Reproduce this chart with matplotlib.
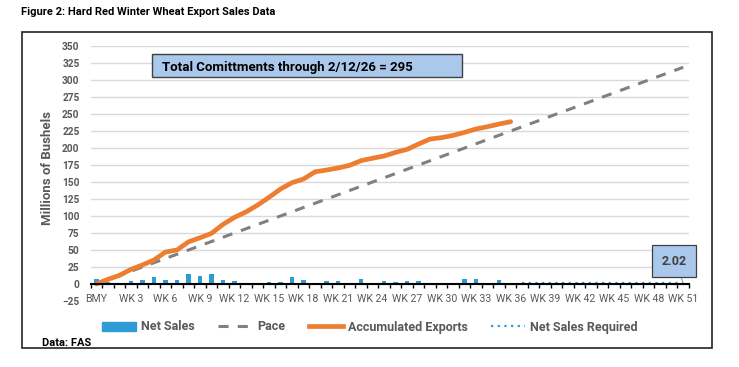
import numpy as np
import matplotlib.pyplot as plt
from matplotlib.patches import Rectangle
from matplotlib.lines import Line2D
from matplotlib.patches import Patch

plt.rcParams['font.family'] = ['Roboto', 'DejaVu Sans']

# categories: BMY, WK 1 .. WK 51
weeks = ['BMY'] + ['WK %d' % i for i in range(1, 52)]
tick_every = 3

net_sales = [7.4, 3.4, 2.0, 5.0, 6.4, 10.8, 6.4, 6.4, 14.7, 12.3, 14.7, 5.9,
             3.9, 2.0, 1.5, 2.9, 2.9, 10.8, 5.9, 2.0, 5.0, 4.4, 0.0, 6.9,
             1.5, 3.9, 2.9, 4.9, 4.9, 0.0, 0.0, 0.0, 7.4, 7.4, 1.5, 5.9]

accumulated = [0, 6.9, 12.7, 21.5, 28, 35.3, 47, 50, 62, 68, 74.5, 87.7, 98,
               106, 116, 127.5, 139.7, 149, 154.4, 165, 167.6, 170.6, 174.5,
               181.4, 185, 188.2, 193.6, 198, 205.9, 213.2, 215.2, 218.6, 223,
               228, 231.4, 235.3, 238.7]

pace_weeks = [0, 51]
pace_vals = [0, 318.75]

req_start = 37
req_value = 2.02
req_vals = [req_value] * (len(weeks) - req_start)

total_text = 'Total Comittments through 2/12/26 = 295'

W, H = 739, 367
fig = plt.figure(figsize=(W / 100, H / 100), dpi=100)

def fx(px): return px / W
def fy(py): return 1 - py / H

ax = fig.add_axes([fx(90.7), fy(301), fx(689) - fx(90.7), fy(46) - fy(301)])

gray = '#595959'
blue = '#2E9BD6'
orange = '#ED7D31'

x_all = np.arange(len(weeks))
ax.bar(np.arange(len(net_sales)), net_sales, width=0.38, color=blue, zorder=2)
ax.plot(pace_weeks, pace_vals, color='#808080', lw=2.2, dashes=(3.3, 3.0), zorder=3)
ax.plot(np.arange(len(accumulated)), accumulated, color=orange, lw=3.4,
        solid_capstyle='round', solid_joinstyle='round', zorder=4)
ax.plot(np.arange(req_start, len(weeks)), req_vals, color=blue, lw=1.6,
        linestyle=(0, (1, 2)), zorder=3)

ax.set_xlim(-0.5, len(weeks) - 0.5)
ax.set_ylim(-25, 350)
ax.set_yticks(np.arange(-25, 351, 25))
ax.yaxis.grid(True, color='#d9d9d9', lw=1)
ax.set_axisbelow(True)
ax.get_ygridlines()[0].set_visible(False)

ax.set_xticks(x_all[::tick_every])
ax.set_xticklabels(weeks[::tick_every])
ax.set_xticks(np.arange(-0.5, len(weeks), 1), minor=True)
ax.tick_params(axis='x', which='major', length=0, pad=7, labelsize=7.6, labelcolor=gray)
ax.tick_params(axis='x', which='minor', length=3, width=1, color='black', direction='out')
ax.tick_params(axis='y', length=0, pad=8, labelsize=7.3, labelcolor=gray)
for lab in ax.get_xticklabels() + ax.get_yticklabels():
    lab.set_fontweight('bold')

for s in ['top', 'right', 'left']:
    ax.spines[s].set_visible(False)
ax.spines['bottom'].set_position(('data', 0))
ax.spines['bottom'].set_linewidth(1.5)
ax.spines['bottom'].set_zorder(5)

# annotation for required sales
ax.annotate('%.2f' % req_value, xy=(51, req_value), xytext=(50.17, 33.8),
            ha='center', va='center', fontsize=9, fontweight='bold', color='#404040',
            bbox=dict(boxstyle='square,pad=0.75', fc='#A9C8EC', ec='#404040', lw=0.9),
            arrowprops=dict(arrowstyle='-', color='#a0a0a0', lw=0.8, shrinkA=0, shrinkB=0),
            zorder=6)

# total commitments box
fig.add_artist(Rectangle((fx(151.7), fy(76.7)), fx(461.7) - fx(151.7), fy(54.3) - fy(76.7),
                         transform=fig.transFigure, fc='#A9C8EC', ec='#404040', lw=1.0))
fig.text(fx(161.7), fy(67), total_text, ha='left', va='center', fontsize=9.5,
         fontweight='bold', color='black')

# outer frame
fig.add_artist(Rectangle((fx(22), fy(348)), fx(712) - fx(22), fy(32) - fy(348),
                         transform=fig.transFigure, fc='none', ec='#222222', lw=1.2))

fig.text(fx(21), fy(12), 'Figure 2: Hard Red Winter Wheat Export Sales Data',
         ha='left', va='center', fontsize=8, fontweight='bold', color='black')
fig.text(fx(47.5), fy(168), 'Millions of Bushels', rotation=90, ha='center', va='center',
         fontsize=9.5, fontweight='bold', color=gray)
fig.text(fx(42), fy(343), 'Data: FAS', ha='left', va='center', fontsize=8,
         fontweight='bold', color='black')

handles = [Patch(color=blue),
           Line2D([], [], color='#808080', lw=2.2, dashes=(3.3, 3.0)),
           Line2D([], [], color=orange, lw=3.4),
           Line2D([], [], color=blue, lw=1.6, linestyle=(0, (1, 2)))]
labels = ['Net Sales', 'Pace', 'Accumulated Exports', 'Net Sales Required']
leg = fig.legend(handles, labels, loc='center', bbox_to_anchor=(fx(370), fy(327)), ncol=4,
                 frameon=False, handlelength=2.7, handletextpad=0.4, columnspacing=1.9,
                 prop={'size': 9, 'weight': 'bold'})
for t in leg.get_texts():
    t.set_color(gray)

fig.savefig('out.png', dpi=100)
